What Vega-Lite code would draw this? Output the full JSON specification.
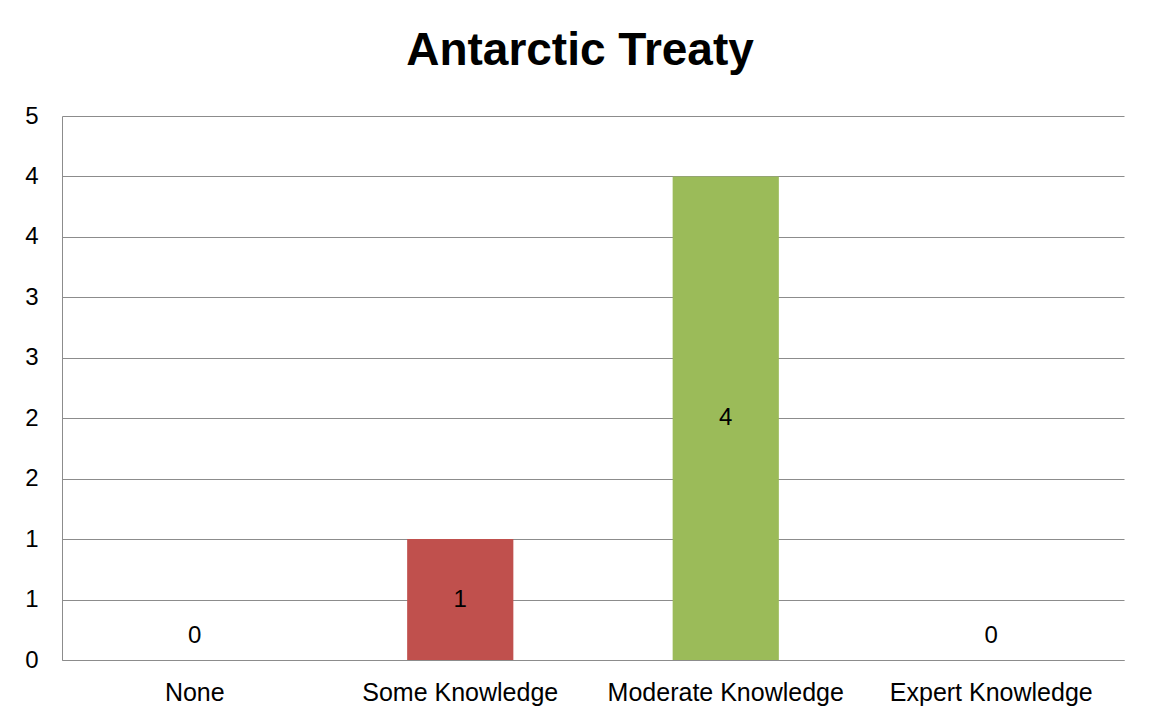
{
  "$schema": "https://vega.github.io/schema/vega-lite/v6.json",
  "width": 1062,
  "height": 544,
  "autosize": {"type": "none"},
  "padding": {"left": 62, "top": 116, "right": 26, "bottom": 63},
  "background": "white",
  "title": {
    "text": "Antarctic Treaty",
    "font": "Liberation Sans",
    "fontSize": 46,
    "fontWeight": "bold",
    "color": "black",
    "anchor": "middle",
    "frame": "bounds",
    "baseline": "alphabetic",
    "offset": -7,
    "dx": 18
  },
  "data": {
    "values": [
      {"level": "None", "count": 0},
      {"level": "Some Knowledge", "count": 1},
      {"level": "Moderate Knowledge", "count": 4},
      {"level": "Expert Knowledge", "count": 0}
    ]
  },
  "encoding": {
    "x": {
      "field": "level",
      "type": "nominal",
      "sort": null,
      "scale": {"paddingInner": 0.6, "paddingOuter": 0.3},
      "axis": {
        "title": null,
        "labelAngle": 0,
        "ticks": false,
        "domain": true,
        "domainColor": "#8c8c8c",
        "domainWidth": 1,
        "labelFont": "Liberation Sans",
        "labelFontSize": 25,
        "labelColor": "black",
        "labelBaseline": "middle",
        "labelPadding": 32,
        "labelLimit": 0,
        "labelOverlap": false,
        "grid": false
      }
    }
  },
  "layer": [
    {
      "mark": {"type": "bar"},
      "encoding": {
        "y": {
          "field": "count",
          "type": "quantitative",
          "scale": {"domain": [0, 4.5], "nice": false},
          "axis": {
            "title": null,
            "values": [0, 0.5, 1, 1.5, 2, 2.5, 3, 3.5, 4, 4.5],
            "labelExpr": "toString(round(datum.value))",
            "labelOverlap": false,
            "ticks": false,
            "domain": true,
            "domainColor": "#8c8c8c",
            "domainWidth": 1,
            "grid": true,
            "gridColor": "#8c8c8c",
            "gridWidth": 1,
            "labelFont": "Liberation Sans",
            "labelFontSize": 24,
            "labelColor": "black",
            "labelPadding": 24,
            "labelBaseline": "middle",
            "labelBound": false,
            "minExtent": 62,
            "maxExtent": 62
          }
        },
        "color": {
          "field": "level",
          "type": "nominal",
          "sort": null,
          "scale": {
            "domain": ["None", "Some Knowledge", "Moderate Knowledge", "Expert Knowledge"],
            "range": ["#4F81BD", "#C0504D", "#9BBB59", "#8064A2"]
          },
          "legend": null
        }
      }
    },
    {
      "transform": [
        {"filter": "datum.count > 0"},
        {"calculate": "datum.count / 2", "as": "mid"}
      ],
      "mark": {
        "type": "text",
        "font": "Liberation Sans",
        "fontSize": 24,
        "color": "black",
        "baseline": "middle",
        "align": "center"
      },
      "encoding": {
        "y": {"field": "mid", "type": "quantitative"},
        "text": {"field": "count", "type": "quantitative"}
      }
    },
    {
      "transform": [{"filter": "datum.count == 0"}],
      "mark": {
        "type": "text",
        "font": "Liberation Sans",
        "fontSize": 24,
        "color": "black",
        "baseline": "middle",
        "align": "center",
        "dy": -24
      },
      "encoding": {
        "y": {"field": "count", "type": "quantitative"},
        "text": {"field": "count", "type": "quantitative"}
      }
    }
  ],
  "config": {
    "view": {"stroke": null}
  }
}
